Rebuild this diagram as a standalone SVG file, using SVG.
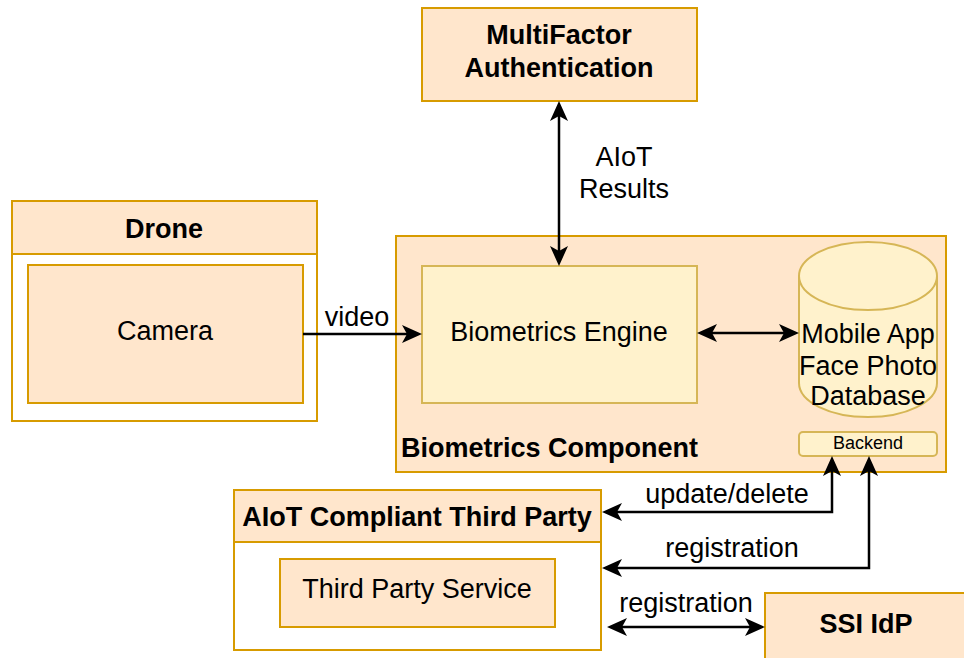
<svg xmlns="http://www.w3.org/2000/svg" width="964" height="658" viewBox="0 0 964 658">
  <style>
    .orange { fill: #ffe6cc; stroke: #d79b00; stroke-width: 2; }
    .yellow { fill: #fff2cc; stroke: #d6b656; stroke-width: 2; }
    .body { fill: #ffffff; stroke: #d79b00; stroke-width: 2; }
    text { font-family: "Liberation Sans", Arial, sans-serif; font-size: 27px; fill: #000000; }
    .c { text-anchor: middle; }
    .b { font-weight: bold; }
    .small { font-size: 18px; }
    .edge { fill: none; stroke: #000000; stroke-width: 2.5; }
  </style>
  <defs>
    <marker id="arrow" viewBox="0 0 20 18" refX="5" refY="9" markerWidth="20" markerHeight="18" markerUnits="userSpaceOnUse" orient="auto-start-reverse">
      <path d="M0,0 L20,9 L0,18 L5,9 Z" fill="#000000"/>
    </marker>
  </defs>
  <rect width="964" height="658" fill="#ffffff"/>

  <!-- MultiFactor Authentication -->
  <g id="mfa">
    <rect class="orange" x="422" y="8" width="275" height="93"/>
    <text class="c b" x="559" y="44">MultiFactor</text>
    <text class="c b" x="559" y="77">Authentication</text>
  </g>

  <!-- Drone container -->
  <g id="drone">
    <rect class="body" x="12" y="201" width="305" height="220"/>
    <rect class="orange" x="12" y="201" width="305" height="53"/>
    <text class="c b" x="164" y="238">Drone</text>
  </g>
  <g id="camera">
    <rect class="orange" x="28" y="265" width="275" height="138"/>
    <text class="c" x="165" y="340">Camera</text>
  </g>

  <!-- Biometrics Component container -->
  <g id="biometrics-component">
    <rect class="orange" x="396" y="236" width="550" height="236"/>
    <text class="b" x="401" y="457">Biometrics Component</text>
  </g>
  <g id="biometrics-engine">
    <rect class="yellow" x="422" y="266" width="275" height="137"/>
    <text class="c" x="559" y="341">Biometrics Engine</text>
  </g>
  <g id="face-db">
    <path class="yellow" d="M799,276 A69,34 0 0 1 937,276 V383 A69,34 0 0 1 799,383 Z"/>
    <path class="yellow" d="M799,276 A69,34 0 0 0 937,276" fill="none"/>
    <text class="c" x="868" y="343">Mobile App</text>
    <text class="c" x="868" y="375">Face Photo</text>
    <text class="c" x="868" y="405">Database</text>
  </g>
  <g id="backend">
    <rect class="yellow" x="799" y="432" width="138" height="24" rx="4"/>
    <text class="c small" x="868" y="449">Backend</text>
  </g>

  <!-- AIoT Compliant Third Party container -->
  <g id="third-party">
    <rect class="body" x="234" y="490" width="367" height="160"/>
    <rect class="orange" x="234" y="490" width="367" height="52"/>
    <text class="c b" x="417" y="526">AIoT Compliant Third Party</text>
  </g>
  <g id="third-party-service">
    <rect class="orange" x="280" y="559" width="275" height="68"/>
    <text class="c" x="417" y="598">Third Party Service</text>
  </g>

  <!-- SSI IdP -->
  <g id="ssi-idp">
    <rect class="orange" x="765" y="593" width="220" height="90"/>
    <text class="c b" x="866" y="633">SSI IdP</text>
  </g>

  <!-- Connectors -->
  <g id="connectors">
    <path class="edge" d="M559,116 V251" marker-start="url(#arrow)" marker-end="url(#arrow)"/>
    <path class="edge" d="M303,334 H407" marker-end="url(#arrow)"/>
    <path class="edge" d="M712,333 H784" marker-start="url(#arrow)" marker-end="url(#arrow)"/>
    <path class="edge" d="M617,512 H832 V471" marker-start="url(#arrow)" marker-end="url(#arrow)"/>
    <path class="edge" d="M617,568 H869 V471" marker-start="url(#arrow)" marker-end="url(#arrow)"/>
    <path class="edge" d="M622,627 H750" marker-start="url(#arrow)" marker-end="url(#arrow)"/>
    <text class="c" x="624" y="166">AIoT</text>
    <text class="c" x="624" y="198">Results</text>
    <text class="c" x="357" y="326">video</text>
    <text class="c" x="727" y="503">update/delete</text>
    <text class="c" x="732" y="557">registration</text>
    <text class="c" x="686" y="612">registration</text>
  </g>
</svg>
